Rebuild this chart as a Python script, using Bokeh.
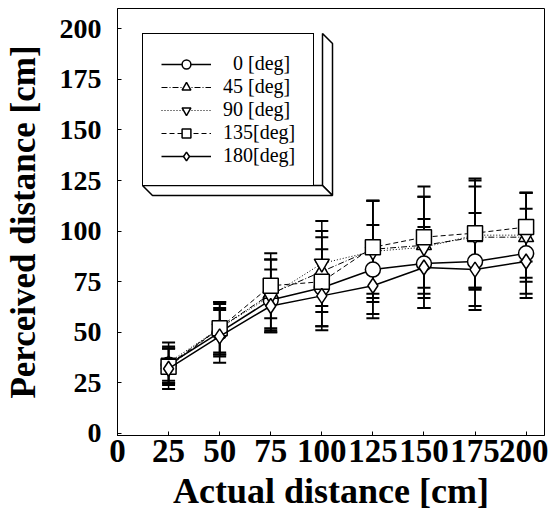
from bokeh.plotting import figure
from bokeh.models import (ColumnDataSource, Whisker, TeeHead, Range1d,
                          PolyAnnotation, FixedTicker)
from bokeh.embed import file_html
from bokeh.resources import INLINE

# ---- data ----
actual = [25, 50, 75, 100, 125, 150, 175, 200]
d0 = [34, 50, 66, 72, 81, 84, 85, 89]
d45 = [34, 52, 69, 80, 91, 93, 97, 97]
d90 = [35, 52, 68, 84, 90, 92, 98, 98]
d135 = [33, 52, 73, 75, 92, 97, 99, 102]
d180 = [32, 48, 63, 68, 73, 82, 81, 85]
e0 = [9, 12, 15, 19, 22, 22, 24, 22]
e45 = [8, 13, 17, 20, 24, 24, 25, 22]
e90 = [10, 12, 18, 21, 25, 25, 27, 21]
e135 = [9, 13, 16, 22, 23, 25, 27, 17]
e180 = [10, 13, 13, 17, 16, 20, 18, 16]
labels = ["\u00a0\u00a00 [deg]", "45 [deg]", "90 [deg]", "135[deg]", "180[deg]"]
markers = ["circle", "triangle", "inverted_triangle", "square", "diamond"]
dashes = ["solid", "6 2 1 2", "1 2", "5 3", "solid"]
widths = [1.5, 1, 1, 1, 1.5]
xticks = [0, 25, 50, 75, 100, 125, 150, 175, 200]
yticks = [0, 25, 50, 75, 100, 125, 150, 175, 200]

X0, X1 = 0, 209
Y0, Y1 = -1, 210
W, H = 548, 522
BL, BR, BT, BB = 117, 4, 8, 87
FW, FH = W - BL - BR, H - BT - BB

p = figure(width=W, height=H, output_backend="svg", toolbar_location=None,
           x_range=Range1d(X0, X1), y_range=Range1d(Y0, Y1),
           min_border_left=BL, min_border_right=BR, min_border_top=BT,
           min_border_bottom=BB, background_fill_color="white")
p.xgrid.visible = False
p.ygrid.visible = False
p.outline_line_color = "black"
p.outline_line_alpha = 1
p.outline_line_width = 1

FONT = "Liberation Serif"
for ax in (p.xaxis[0], p.yaxis[0]):
    ax.axis_line_color = "black"
    ax.major_tick_in = 4
    ax.major_tick_out = 0
    ax.minor_tick_line_color = None
    ax.major_label_text_font = FONT
    ax.major_label_text_font_style = "bold"
    ax.axis_label_text_font = FONT
    ax.axis_label_text_font_style = "bold"
    ax.major_label_text_color = "black"
    ax.axis_label_text_color = "black"

p.xaxis.ticker = FixedTicker(ticks=xticks)
p.yaxis.ticker = FixedTicker(ticks=yticks)
p.xaxis.axis_label = "Actual distance [cm]"
p.yaxis.axis_label = "Perceived distance [cm]"
p.xaxis.major_label_text_font_size = "33px"
p.yaxis.major_label_text_font_size = "28px"
p.xaxis.axis_label_text_font_size = "36px"
p.yaxis.axis_label_text_font_size = "35px"
p.xaxis.major_label_standoff = 4
p.yaxis.major_label_standoff = 16
p.xaxis.axis_label_standoff = 6
p.yaxis.axis_label_standoff = 14

series = [d0, d45, d90, d135, d180]
errs = [e0, e45, e90, e135, e180]

for ys, es in zip(series, errs):
    src = ColumnDataSource(dict(x=actual, lo=[y - e for y, e in zip(ys, es)],
                                hi=[y + e for y, e in zip(ys, es)]))
    w = Whisker(base="x", lower="lo", upper="hi", source=src, line_color="black",
                line_width=1.5,
                upper_head=TeeHead(size=13, line_width=2, line_color="black"),
                lower_head=TeeHead(size=13, line_width=2, line_color="black"))
    p.add_layout(w)

for ys, lab, mk, ds, lw in zip(series, labels, markers, dashes, widths):
    p.line(actual, ys, line_color="black", line_width=lw, line_dash=ds, legend_label=lab)
    p.scatter(actual, ys, marker=mk, size=15, fill_color="white", line_color="black",
              line_width=1.5, legend_label=lab)

# legend styling
lg = p.legend[0]
lg.location = "top_left"
lg.margin = 25
lg.padding = 18
lg.spacing = 0
lg.glyph_width = 50
lg.glyph_height = 22
lg.label_standoff = 12
lg.label_text_font = FONT
lg.label_text_font_size = "20px"
lg.label_text_color = "black"
lg.border_line_color = "black"
lg.border_line_alpha = 1
lg.border_line_width = 1.5
lg.background_fill_color = "white"
lg.background_fill_alpha = 1

# 3D bevel behind the legend box (frame pixel geometry -> data units)
def fx(px):
    return X0 + px * (X1 - X0) / FW

def fy(py):
    return Y1 - py * (Y1 - Y0) / FH

L, T, R, B, D = 25, 25, 205, 177, 10
side = PolyAnnotation(xs=[fx(R), fx(R + D), fx(R + D), fx(R)],
                      ys=[fy(T), fy(T + D), fy(B + D), fy(B)],
                      fill_color="white", fill_alpha=1, line_color="black",
                      line_alpha=1, line_width=1.5)
bottom = PolyAnnotation(xs=[fx(L), fx(R), fx(R + D), fx(L + D)],
                        ys=[fy(B), fy(B), fy(B + D), fy(B + D)],
                        fill_color="white", fill_alpha=1, line_color="black",
                        line_alpha=1, line_width=1.5)
p.add_layout(side)
p.add_layout(bottom)

open("out.html", "w").write(file_html(p, INLINE))
